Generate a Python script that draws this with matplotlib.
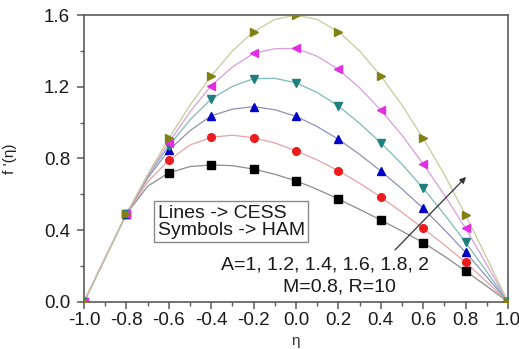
import numpy as np
import matplotlib
matplotlib.use("Agg")
import matplotlib.pyplot as plt
from matplotlib.ticker import MultipleLocator

plt.rcParams['font.family'] = ['Liberation Sans', 'DejaVu Sans']

# CESS solution (lines), eta every 0.1
eta_line = [-1.0, -0.9, -0.8, -0.7, -0.6, -0.5, -0.4, -0.3, -0.2, -0.1, 0.0,
            0.1, 0.2, 0.3, 0.4, 0.5, 0.6, 0.7, 0.8, 0.9, 1.0]
cess_a10 = [0, 0.245, 0.49, 0.645, 0.72, 0.755, 0.764, 0.760, 0.741, 0.712, 0.676,
            0.628, 0.574, 0.516, 0.457, 0.395, 0.331, 0.255, 0.173, 0.088, 0]
cess_a12 = [0, 0.245, 0.49, 0.67, 0.79, 0.875, 0.918, 0.930, 0.916, 0.887, 0.843,
            0.792, 0.732, 0.662, 0.585, 0.500, 0.410, 0.318, 0.221, 0.112, 0]
cess_a14 = [0, 0.245, 0.49, 0.69, 0.846, 0.955, 1.038, 1.075, 1.089, 1.072, 1.035,
            0.978, 0.907, 0.823, 0.730, 0.630, 0.522, 0.403, 0.277, 0.140, 0]
cess_a16 = [0, 0.245, 0.49, 0.70, 0.870, 1.015, 1.132, 1.202, 1.245, 1.247, 1.222,
            1.168, 1.093, 0.996, 0.888, 0.768, 0.634, 0.488, 0.333, 0.168, 0]
cess_a18 = [0, 0.245, 0.49, 0.705, 0.888, 1.060, 1.206, 1.310, 1.386, 1.412, 1.414,
            1.370, 1.297, 1.194, 1.070, 0.930, 0.769, 0.597, 0.410, 0.208, 0]
cess_a20 = [0, 0.245, 0.49, 0.71, 0.912, 1.097, 1.260, 1.400, 1.507, 1.575, 1.600,
            1.575, 1.507, 1.400, 1.260, 1.097, 0.912, 0.710, 0.485, 0.245, 0]

# HAM solution (symbols), eta every 0.2
eta_ham = [-1.0, -0.8, -0.6, -0.4, -0.2, 0.0, 0.2, 0.4, 0.6, 0.8, 1.0]
ham_a10 = [0, 0.49, 0.72, 0.764, 0.741, 0.676, 0.574, 0.457, 0.331, 0.173, 0]
ham_a12 = [0, 0.49, 0.79, 0.918, 0.916, 0.843, 0.732, 0.585, 0.410, 0.221, 0]
ham_a14 = [0, 0.49, 0.846, 1.038, 1.089, 1.035, 0.907, 0.730, 0.522, 0.277, 0]
ham_a16 = [0, 0.49, 0.870, 1.132, 1.245, 1.222, 1.093, 0.888, 0.634, 0.333, 0]
ham_a18 = [0, 0.49, 0.888, 1.206, 1.386, 1.414, 1.297, 1.070, 0.769, 0.410, 0]
ham_a20 = [0, 0.49, 0.912, 1.260, 1.507, 1.600, 1.507, 1.260, 0.912, 0.485, 0]

cess = [cess_a10, cess_a12, cess_a14, cess_a16, cess_a18, cess_a20]
ham = [ham_a10, ham_a12, ham_a14, ham_a16, ham_a18, ham_a20]

line_colors = ['#8c8c8c', '#e6a3a6', '#8f8fb8', '#7fb9b9', '#d79ddc', '#c9c99a']
sym_colors = ['#000000', '#ee1c1c', '#0000c8', '#1f7f7f', '#e22ee2', '#808015']
markers = ['s', 'o', '^', 'v', '<', '>']

fig = plt.figure(figsize=(5.19, 3.49), dpi=100)
ax = fig.add_axes([0.1618, 0.1347, 0.817, 0.8223])

for k in range(6):
    ax.plot(eta_line, cess[k], '-', color=line_colors[k], lw=0.9, zorder=2)
for k in range(6):
    ax.plot(eta_ham, ham[k], linestyle='none', marker=markers[k], ms=5.5,
            color=sym_colors[k], mec=sym_colors[k], zorder=3)

ax.set_xlim(-1.0, 1.0)
ax.set_ylim(0.0, 1.6)
ax.xaxis.set_major_locator(MultipleLocator(0.2))
ax.xaxis.set_minor_locator(MultipleLocator(0.1))
ax.yaxis.set_major_locator(MultipleLocator(0.4))
ax.yaxis.set_minor_locator(MultipleLocator(0.2))
ax.xaxis.set_major_formatter(plt.FormatStrFormatter('%.1f'))
ax.yaxis.set_major_formatter(plt.FormatStrFormatter('%.1f'))

for s in ax.spines.values():
    s.set_color('#5a5a5a')
    s.set_linewidth(1.2)
ax.tick_params(which='major', direction='out', length=5, width=1.1,
               color='#5a5a5a', labelsize=13.5, labelcolor='#1a1a1a')
ax.tick_params(axis='x', which='major', pad=2)
ax.tick_params(axis='y', which='major', pad=5)
ax.tick_params(which='minor', direction='out', length=3, width=1.0, color='#5a5a5a')
ax.tick_params(top=False, right=False, which='both')

ax.set_xlabel('η', fontsize=11, color='#333333')
ax.xaxis.set_label_coords(0.5, -0.11)
ax.set_ylabel("f '(η)", fontsize=11, color='#222222')
ax.yaxis.set_label_coords(-0.158, 0.5)

ax.text(0.347, 0.279, 'Lines -> CESS\nSymbols -> HAM', transform=ax.transAxes,
        ha='center', va='center', multialignment='left', fontsize=14,
        linespacing=1.0, color='#1a1a1a',
        bbox=dict(boxstyle='square,pad=0.18', fc='white', ec='#8a8a8a', lw=1.0))
ax.text(0.5696, 0.129, 'A=1, 1.2, 1.4, 1.6, 1.8, 2', transform=ax.transAxes,
        ha='center', va='center', fontsize=14, color='#1a1a1a')
ax.text(0.6026, 0.052, 'M=0.8, R=10', transform=ax.transAxes,
        ha='center', va='center', fontsize=14, color='#1a1a1a')

# arrow for increasing A
ax.annotate('', xy=(0.802, 0.697), xytext=(0.467, 0.29),
            arrowprops=dict(arrowstyle='-|>', color='#333333', lw=0.9,
                            mutation_scale=9, shrinkA=0, shrinkB=0))

fig.savefig('out.png', dpi=100)
